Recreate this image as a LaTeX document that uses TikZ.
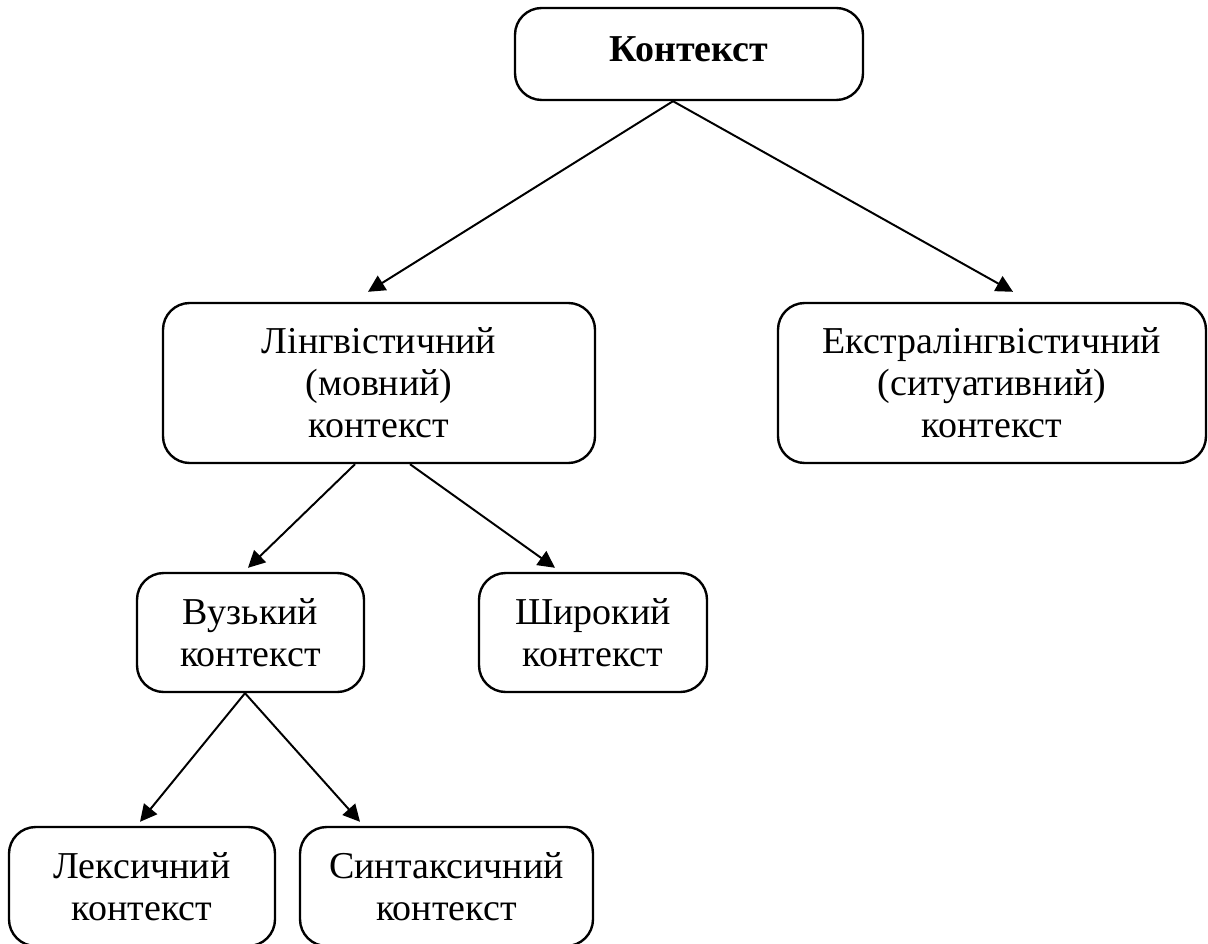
\documentclass[tikz,border=0pt]{standalone}
\usepackage{fontspec}
\setmainfont{Liberation Serif}
\usetikzlibrary{arrows.meta}
\def\u{0.025cm}
\begin{document}
\begin{tikzpicture}[x=0.025cm,y=-0.025cm,
  box/.style={draw,line width=1.7pt,rounded corners=19pt,align=center,inner sep=0pt,
    font=\fontsize{27}{30}\selectfont},
  conn/.style={line width=1.4pt,-{Triangle[length=12pt,width=12pt]}}]
\useasboundingbox (0,0) rectangle (1208,944);
\node[box,minimum width=348*\u,minimum height=92*\u] (ctx) at (689,54) {\raisebox{0.25cm}{\textbf{Контекст}}};
\node[box,minimum width=432*\u,minimum height=160*\u] (ling) at (379,383) {Лінгвістичний\\(мовний)\\контекст};
\node[box,minimum width=428*\u,minimum height=160*\u] (extra) at (992,383) {Екстралінгвістичний\\(ситуативний)\\контекст};
\node[box,minimum width=227*\u,minimum height=119*\u] (narrow) at (250.5,632.5) {Вузький\\контекст};
\node[box,minimum width=228*\u,minimum height=119*\u] (wide) at (593,632.5) {Широкий\\контекст};
\node[box,minimum width=266*\u,minimum height=119*\u] (lex) at (142,886.5) {Лексичний\\контекст};
\node[box,minimum width=293*\u,minimum height=119*\u] (syn) at (446.5,886.5) {Синтаксичний\\контекст};
\draw[conn] ([xshift=-16*\u]ctx.south) -- ([xshift=-11*\u,yshift=10*\u]ling.north);
\draw[conn] ([xshift=-16*\u]ctx.south) -- ([xshift=21*\u,yshift=10*\u]extra.north);
\draw[conn] ([xshift=-24*\u]ling.south) -- ([xshift=-2.5*\u,yshift=4*\u]narrow.north);
\draw[conn] ([xshift=31*\u]ling.south) -- ([xshift=-38*\u,yshift=4*\u]wide.north);
\draw[conn] ([xshift=-5.5*\u]narrow.south) -- ([xshift=-2*\u,yshift=4*\u]lex.north);
\draw[conn] ([xshift=-5.5*\u]narrow.south) -- ([xshift=-86.5*\u,yshift=4*\u]syn.north);
\end{tikzpicture}
\end{document}
